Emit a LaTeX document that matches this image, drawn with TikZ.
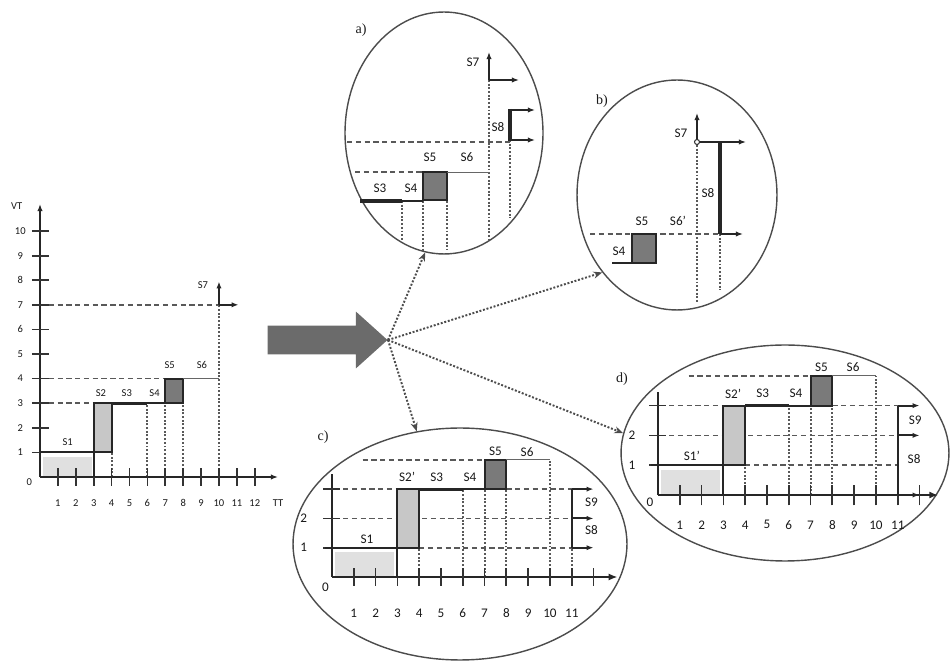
\documentclass[tikz,border=0pt]{standalone}
\usepackage{fontspec}
\setmainfont{Carlito}
\newfontfamily\tagfont{Liberation Serif}
\usetikzlibrary{shapes.geometric,shapes.arrows,arrows.meta}

\begin{document}
\begin{tikzpicture}[x=0.02cm, y=-0.02cm, font=\fontsize{7.5}{8}\selectfont,
    every node/.style={inner sep=0pt, text=black!90},
    axis/.style={line width=1pt, black!85},
    tick/.style={line width=1pt, black!80},
    hgrid/.style={densely dashed, line width=1pt, black!65},
    vgrid/.style={densely dotted, line width=1.1pt, black!65},
    stepline/.style={line width=1.1pt, black!85},
    boldline/.style={line width=1.8pt, black!85},
    thinline/.style={line width=0.5pt, black!60},
    lightbox/.style={fill=black!22, draw=black!85, line width=1.1pt},
    darkbox/.style={fill=black!52, draw=black!85, line width=1.1pt},
    bubble/.style={ellipse, draw=black!70, line width=0.8pt},
    tag/.style={font=\tagfont\fontsize{8}{9}\selectfont},
    link/.style={densely dotted, line width=1.1pt, black!70, -{Stealth[length=5pt,width=4pt]}},
    flow/.style={-{Latex[length=4pt,width=3pt]}, line width=1.1pt, black!85}]

    \useasboundingbox (0,0) rectangle (950,661);

    % left chart
    \begin{scope}[shift={(40,477)}, x=0.358cm, y=0.492cm, font=\fontsize{6}{7}\selectfont]
    \fill[black!12] (0.15,0) rectangle (2.9,0.8);
    \draw[hgrid] (0,7) -- (10,7);
    \draw[hgrid] (0,4) -- (7,4);
    \draw[hgrid] (0,3) -- (3,3);
    \draw[vgrid] (4,0) -- (4,1);
    \draw[vgrid] (6,0) -- (6,3);
    \draw[vgrid] (7,0) -- (7,3);
    \draw[vgrid] (8,0) -- (8,3);
    \draw[vgrid] (10,0) -- (10,7);
    \draw[axis, -{Latex[length=4pt,width=3pt]}] (0,0) -- (13.3,0);
    \draw[axis, -{Latex[length=4pt,width=3pt]}] (0,0) -- (0,11.1);
    \foreach \i in {1,...,12} {
        \draw[tick] (\i,-0.35) -- (\i,0.35);
        \node (lx\i) at (\i,-1.05) {\i};
    }
    \foreach \i in {1,...,10} {
        \draw[tick] (-0.45,\i) -- (0.5,\i);
        \node (ly\i) at (-1.1,\i) {\i};
    }
    \node (lo) at (-0.6,-0.2) {0};
    \node (lvt) at (-1.3,11) {VT};
    \node (ltt) at (13.3,-1.05) {TT};
    % steps
    \draw[stepline] (0,1) -- (3,1) -- (3,0);
    \draw[lightbox] (3,1) rectangle (4,3);
    \draw[boldline] (4,3) -- (6,3);
    \draw[stepline] (6,3) -- (7,3);
    \draw[darkbox] (7,3) rectangle (8,4);
    \draw[thinline] (8,4) -- (10,4);
    \draw[flow] (10,7) -- (10,7.95);
    \draw[flow] (10,7) -- (11.1,7);
    \node (ls1) at (1.55,1.4) {S1};
    \node (ls2) at (3.4,3.4) {S2};
    \node (ls3) at (4.85,3.4) {S3};
    \node (ls4) at (6.4,3.4) {S4};
    \node (ls5) at (7.25,4.55) {S5};
    \node (ls6) at (9.05,4.55) {S6};
    \node (ls7) at (9.1,7.8) {S7};
    \end{scope}

    % big arrow and bubbles
    \node[single arrow, fill=black!58, inner xsep=0pt, inner ysep=0.28cm,
          single arrow head extend=0.28cm, single arrow tip angle=84,
          minimum height=2.4cm, anchor=tip] (bigarrow) at (388,340) {};

    \node[bubble, minimum width=3.96cm, minimum height=4.84cm] (ea) at (444,133) {};
    \node[bubble, minimum width=4.0cm, minimum height=4.6cm] (eb) at (677,195) {};
    \node[bubble, minimum width=6.68cm, minimum height=4.64cm] (ec) at (460,544) {};
    \node[bubble, minimum width=6.56cm, minimum height=4.32cm] (ed) at (785,453) {};

    \node[tag] (ta) at (361,30) {a)};
    \node[tag] (tb) at (602,101) {b)};
    \node[tag] (tc) at (323,437) {c)};
    \node[tag] (td) at (622,379) {d)};

    \draw[link] (bigarrow.tip) -- (ea.261);
    \draw[link] (bigarrow.tip) -- (eb.226);
    \draw[link] (bigarrow.tip) -- (ec.111);
    \draw[link] (bigarrow.tip) -- (ed.173);

    % bubble a
    \draw[hgrid] (347,142) -- (510,142);
    \draw[hgrid] (355,172) -- (423,172);
    \draw[vgrid] (489,80) -- (489,240);
    \draw[vgrid] (510,140) -- (510,218);
    \draw[vgrid] (402,201) -- (402,240);
    \draw[vgrid] (423,201) -- (423,252);
    \draw[vgrid] (447,201) -- (447,250);
    \draw[flow] (489,80) -- (489,52);
    \draw[flow] (489,80) -- (519,80);
    \node[fill=white, inner sep=0.5pt] (as8) at (498,127) {S8};
    \draw[boldline] (510,109) -- (510,141);
    \draw[flow] (510,110) -- (535,110);
    \draw[flow] (510,140) -- (535,140);
    \draw[boldline] (360,201) -- (402,201);
    \draw[stepline] (402,201) -- (423,201);
    \draw[darkbox] (423,172) rectangle (447,200);
    \draw[thinline] (447,172) -- (490,172);
    \node (as3) at (380,188) {S3};
    \node (as4) at (411,188) {S4};
    \node (as5) at (430,157) {S5};
    \node (as6) at (467,157) {S6};
    \node (as7) at (473,62) {S7};

    % bubble b
    \draw[hgrid] (590,234) -- (720,234);
    \draw[vgrid] (697,145) -- (697,302);
    \draw[vgrid] (720,234) -- (720,290);
    \draw[flow] (697,142) -- (697,113);
    \draw[flow] (697,142) -- (746,142);
    \draw[black!80, fill=white, line width=0.6pt] (697,142) circle (2.5);
    \draw[boldline] (720,142) -- (720,234);
    \draw[flow] (720,234) -- (743,234);
    \draw[stepline] (612,263) -- (632,263);
    \draw[darkbox] (632,234) rectangle (656,263);
    \node (bs4) at (619,251) {S4};
    \node (bs5) at (642,221) {S5};
    \node (bs6) at (678,221) {S6'};
    \node (bs7) at (681,133) {S7};
    \node[fill=white, inner sep=0.5pt] (bs8) at (708,193) {S8};

    % bubble c
    \begin{scope}[shift={(332,577)}, x=0.436cm, y=0.586cm]
    \fill[black!12] (0.15,0.05) rectangle (2.85,0.85);
    \draw[hgrid] (1.4,4) -- (7,4);
    \draw[hgrid] (-0.3,3) -- (3,3);
    \draw[hgrid] (8,3) -- (11,3);
    \draw[hgrid] (-0.3,2) -- (11,2);
    \draw[hgrid] (4,1) -- (11,1);
    \draw[vgrid] (4,0) -- (4,1);
    \draw[vgrid] (6,0) -- (6,3);
    \draw[vgrid] (7,0) -- (7,3);
    \draw[vgrid] (8,0) -- (8,3);
    \draw[vgrid] (10,0) -- (10,4);
    \draw[vgrid] (11,0) -- (11,1);
    \draw[axis] (0,0) -- (0,3.5);
    \draw[axis, -{Latex[length=5pt,width=4pt]}] (0,0) -- (13.1,0);
    \foreach \i in {1,...,12}
        \draw[tick] (\i,-0.3) -- (\i,0.3);
    \foreach \i in {1,...,11}
        \node (cx\i) at (\i,-1.23) {\i};
    \foreach \i in {1,2,3}
        \draw[tick] (-0.4,\i) -- (0.35,\i);
    \node (cy1) at (-1.3,1) {1};
    \node (cy2) at (-1.3,2) {2};
    \node (co) at (-0.3,-0.35) {0};
    \draw[stepline] (-0.3,1) -- (3,1) -- (3,0);
    \draw[lightbox] (3,1) rectangle (4,3);
    \draw[boldline] (4,3) -- (6,3);
    \draw[stepline] (6,3) -- (7,3);
    \draw[darkbox] (7,3) rectangle (8,4);
    \draw[thinline] (8,4) -- (10,4);
    \draw[stepline] (11,1) -- (11,3);
    \draw[flow] (11,3) -- (12,3);
    \draw[flow] (11,2) -- (12,2);
    \draw[flow] (11,1) -- (12,1);
    \node (cs1) at (1.6,1.3) {S1};
    \node (cs2) at (3.45,3.4) {S2'};
    \node (cs3) at (4.8,3.4) {S3};
    \node (cs4) at (6.33,3.4) {S4};
    \node (cs5) at (7.5,4.28) {S5};
    \node (cs6) at (8.95,4.28) {S6};
    \node (cs9) at (11.9,2.56) {S9};
    \node (cs8) at (11.9,1.6) {S8};
    \end{scope}

    % bubble d
    \begin{scope}[shift={(658,495)}, x=0.436cm, y=0.596cm]
    \fill[black!12] (0.15,0.05) rectangle (2.85,0.85);
    \draw[hgrid] (1.4,4) -- (7,4);
    \draw[hgrid] (-0.3,3) -- (3,3);
    \draw[hgrid] (8,3) -- (11,3);
    \draw[hgrid] (-0.3,2) -- (11,2);
    \draw[hgrid] (4,1) -- (11,1);
    \draw[vgrid] (4,0) -- (4,1);
    \draw[vgrid] (6,0) -- (6,3);
    \draw[vgrid] (7,0) -- (7,3);
    \draw[vgrid] (8,0) -- (8,3);
    \draw[vgrid] (10,0) -- (10,4);
    \draw[axis] (0,0) -- (0,3.45);
    \draw[axis, -{Latex[length=5pt,width=4pt]}] (0,0) -- (12.85,0);
    \foreach \i in {1,...,12}
        \draw[tick] (\i,-0.35) -- (\i,0.35);
    \foreach \i in {1,...,11}
        \node (dx\i) at (\i,-1.0) {\i};
    \foreach \i in {1,2,3}
        \draw[tick] (-0.4,\i) -- (0.35,\i);
    \node (dy1) at (-1.2,1) {1};
    \node (dy2) at (-1.2,2) {2};
    \node (do) at (-0.37,-0.25) {0};
    \draw[stepline] (-0.3,1) -- (3,1) -- (3,0);
    \draw[lightbox] (3,1) rectangle (4,3);
    \draw[boldline] (4,3) -- (6,3);
    \draw[stepline] (6,3) -- (7,3);
    \draw[darkbox] (7,3) rectangle (8,4);
    \draw[thinline] (8,4) -- (10,4);
    \draw[stepline] (11,0) -- (11,3);
    \draw[flow] (11,3) -- (12,3);
    \draw[flow] (11,2) -- (12,2);
    \draw[flow, line width=1.4pt] (11,0) -- (12,0);
    \node (ds1) at (1.55,1.3) {S1'};
    \node (ds2) at (3.45,3.4) {S2'};
    \node (ds3) at (4.8,3.4) {S3};
    \node (ds4) at (6.33,3.4) {S4};
    \node (ds5) at (7.5,4.3) {S5};
    \node (ds6) at (8.95,4.3) {S6};
    \node (ds9) at (11.8,2.5) {S9};
    \node (ds8) at (11.75,1.2) {S8};
    \end{scope}

\end{tikzpicture}
\end{document}
